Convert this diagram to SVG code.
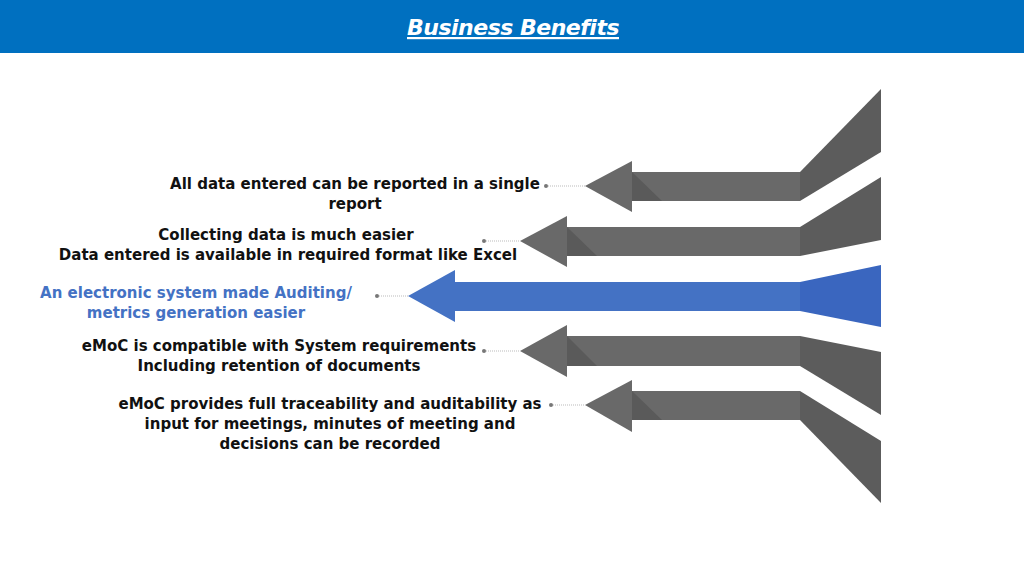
<svg xmlns="http://www.w3.org/2000/svg" width="1024" height="576" viewBox="0 0 1024 576">
<style>
.t{font-family:"DejaVu Sans",Verdana,sans-serif;font-weight:bold;font-size:15px;fill:#111;text-anchor:middle}
.b{fill:#4472C4}
.g{fill:#696969}
.gf{fill:#5c5c5c}
.sh{fill:#5a5a5a}
.bf{fill:#3a66bf}
.ln{stroke:#bbb;stroke-width:1;stroke-dasharray:1 1}
.dot{fill:#777}
</style>
<rect x="0" y="0" width="1024" height="53" fill="#0070C0"/>
<text x="513" y="35" font-family="DejaVu Sans,Verdana,sans-serif" font-weight="bold" font-style="italic" font-size="22" fill="#fff" text-anchor="middle" text-decoration="underline" letter-spacing="-0.5">Business Benefits</text>
<g id="connectors">
<line class="ln" x1="546" y1="186" x2="585" y2="186"/><circle class="dot" cx="546" cy="186" r="2"/>
<line class="ln" x1="484" y1="241" x2="520" y2="241"/><circle class="dot" cx="484" cy="241" r="2"/>
<line class="ln" x1="377" y1="296" x2="408" y2="296"/><circle class="dot" cx="377" cy="296" r="2"/>
<line class="ln" x1="484" y1="351" x2="520" y2="351"/><circle class="dot" cx="484" cy="351" r="2"/>
<line class="ln" x1="551" y1="405" x2="585" y2="405"/><circle class="dot" cx="551" cy="405" r="2"/>
</g>
<g id="arrow1">
<polygon class="gf" points="800,172 881,89 881,152 800,201"/>
<rect class="g" x="632" y="172" width="168" height="29"/>
<polygon class="sh" points="632,172 662,201 632,201"/>
<polygon class="g" points="585,186 632,161 632,212"/>
</g>
<g id="arrow2">
<polygon class="gf" points="800,227 881,177 881,240 800,256"/>
<rect class="g" x="567" y="227" width="233" height="29"/>
<polygon class="sh" points="567,227 597,256 567,256"/>
<polygon class="g" points="520,241 567,216 567,267"/>
</g>
<g id="arrow3">
<polygon class="bf" points="800,282 881,265 881,327 800,311"/>
<rect class="b" x="455" y="282" width="345" height="29"/>
<polygon class="b" points="408,296 455,270 455,322"/>
</g>
<g id="arrow4">
<polygon class="gf" points="800,336 881,352 881,415 800,366"/>
<rect class="g" x="567" y="336" width="233" height="30"/>
<polygon class="sh" points="567,336 597,366 567,366"/>
<polygon class="g" points="520,351 567,325 567,377"/>
</g>
<g id="arrow5">
<polygon class="gf" points="800,391 881,441 881,503 800,420"/>
<rect class="g" x="632" y="391" width="168" height="29"/>
<polygon class="sh" points="632,391 662,420 632,420"/>
<polygon class="g" points="585,405 632,380 632,432"/>
</g>
<g id="text1"><text class="t" x="355" y="189">All data entered can be reported in a single</text><text class="t" x="355" y="209">report</text></g>
<g id="text2"><text class="t" x="286" y="240">Collecting data is much easier</text><text class="t" x="288" y="260">Data entered is available in required format like Excel</text></g>
<g id="text3"><text class="t" x="196" y="298" style="fill:#4472C4">An electronic system made Auditing/</text><text class="t" x="196" y="318" style="fill:#4472C4">metrics generation easier</text></g>
<g id="text4"><text class="t" x="279" y="351">eMoC is compatible with System requirements</text><text class="t" x="279" y="371">Including retention of documents</text></g>
<g id="text5"><text class="t" x="330" y="409">eMoC provides full traceability and auditability as</text><text class="t" x="330" y="429">input for meetings, minutes of meeting and</text><text class="t" x="330" y="449">decisions can be recorded</text></g>
</svg>
